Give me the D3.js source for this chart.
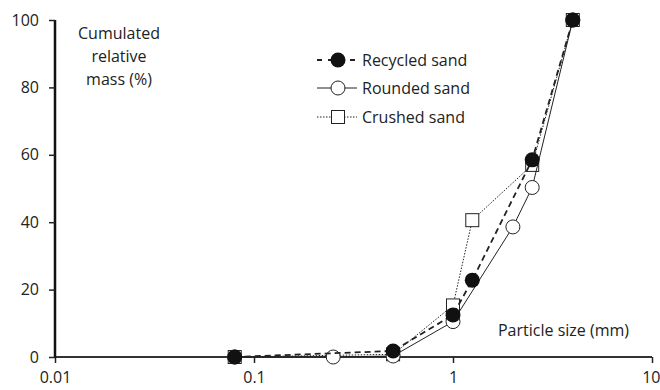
<!DOCTYPE html>
<html><head><meta charset="utf-8">
<script src="https://cdn.jsdelivr.net/npm/d3@7"></script>
<style>body{margin:0;background:#fff}svg{display:block}text{font-family:"Open Sans",sans-serif;fill:#222}</style>
</head><body><svg id="c" width="660" height="390"></svg>
<script>
const seriesNames = ["Recycled sand","Rounded sand","Crushed sand"];
const recycledX = [0.08,0.5,1,1.25,2.5,4];
const recycledY = [0,1.8,12.5,22.8,58.5,100];
const roundedX = [0.08,0.25,0.5,1,2,2.5,4];
const roundedY = [0,0,0.3,10.5,38.6,50.3,100];
const crushedX = [0.08,0.5,1,1.25,2.5,4];
const crushedY = [0,0.8,15.3,40.6,57,100];
const xTicks = [0.01,0.1,1,10];
const yTicks = [0,20,40,60,80,100];

const FS = "16px";
const svg = d3.select("#c");
const x = d3.scaleLog().domain([0.01,10]).range([55,652]);
const y = d3.scaleLinear().domain([0,100]).range([357,20]);

// axes
const xa = svg.append("g").attr("transform","translate(0,357)")
  .call(d3.axisBottom(x).tickValues(xTicks).tickFormat(d=>String(d)).tickSize(6).tickPadding(9));
const ya = svg.append("g").attr("transform","translate(55,0)")
  .call(d3.axisLeft(y).tickValues(yTicks).tickSize(6).tickPadding(10));
[xa,ya].forEach(a=>{
  a.selectAll(".tick line").attr("stroke","#222").attr("stroke-width",1.5);
  a.selectAll(".tick text").style("font-family","'Open Sans',sans-serif").style("font-size",FS).attr("fill","#222");
});
xa.selectAll(".tick text").filter(d=>d===10).attr("text-anchor","end").attr("x",8);
xa.select(".domain").attr("d","M55,0H652").attr("stroke","#333").attr("stroke-width",2);
ya.select(".domain").attr("d","M0,20V358").attr("stroke","#111").attr("stroke-width",2.5);

const line = d3.line().x(d=>x(d[0])).y(d=>y(d[1]));
const zip = (a,b)=>a.map((v,i)=>[v,b[i]]);
const crushed = zip(crushedX,crushedY), rounded = zip(roundedX,roundedY), recycled = zip(recycledX,recycledY);

// crushed
svg.append("path").datum(crushed).attr("d",line).attr("fill","none").attr("stroke","#222").attr("stroke-width",1).attr("stroke-dasharray","1.5,1.5");
svg.selectAll(".sq").data(crushed).join("rect").attr("x",d=>x(d[0])-6.5).attr("y",d=>y(d[1])-6.5)
  .attr("width",13).attr("height",13).attr("fill","#fff").attr("stroke","#222").attr("stroke-width",1);
// rounded
svg.append("path").datum(rounded).attr("d",line).attr("fill","none").attr("stroke","#222").attr("stroke-width",1);
svg.selectAll(".oc").data(rounded).join("circle").attr("cx",d=>x(d[0])).attr("cy",d=>y(d[1])).attr("r",7)
  .attr("fill","#fff").attr("stroke","#222").attr("stroke-width",1);
// recycled
svg.append("path").datum(recycled).attr("d",line).attr("fill","none").attr("stroke","#222").attr("stroke-width",1.8).attr("stroke-dasharray","6,4");
svg.selectAll(".fc").data(recycled).join("circle").attr("cx",d=>x(d[0])).attr("cy",d=>y(d[1])).attr("r",7.5)
  .attr("fill","#111");

// y label
const yl = svg.append("text").attr("text-anchor","middle").style("font-size",FS);
["Cumulated","relative","mass (%)"].forEach((t,i)=>yl.append("tspan").attr("x",119).attr("y",39+i*23).text(t));
// x label
svg.append("text").attr("x",629).attr("y",336).attr("text-anchor","end").style("font-size",FS).text("Particle size (mm)");

// legend
const lg = svg.append("g");
const rows = [60,88,117];
lg.append("line").attr("x1",317).attr("x2",357).attr("y1",rows[0]).attr("y2",rows[0]).attr("stroke","#222").attr("stroke-width",1.8).attr("stroke-dasharray","5,6");
lg.append("circle").attr("cx",338).attr("cy",rows[0]).attr("r",7.5).attr("fill","#111");
lg.append("line").attr("x1",317).attr("x2",357).attr("y1",rows[1]).attr("y2",rows[1]).attr("stroke","#222").attr("stroke-width",1);
lg.append("circle").attr("cx",338).attr("cy",rows[1]).attr("r",7).attr("fill","#fff").attr("stroke","#222");
lg.append("line").attr("x1",317).attr("x2",357).attr("y1",rows[2]).attr("y2",rows[2]).attr("stroke","#222").attr("stroke-width",1).attr("stroke-dasharray","1.5,1.5");
lg.append("rect").attr("x",331.5).attr("y",rows[2]-6.5).attr("width",13).attr("height",13).attr("fill","#fff").attr("stroke","#222");
seriesNames.forEach((n,i)=>lg.append("text").attr("x",362).attr("y",rows[i]+6).style("font-size",FS).text(n));
</script></body></html>
